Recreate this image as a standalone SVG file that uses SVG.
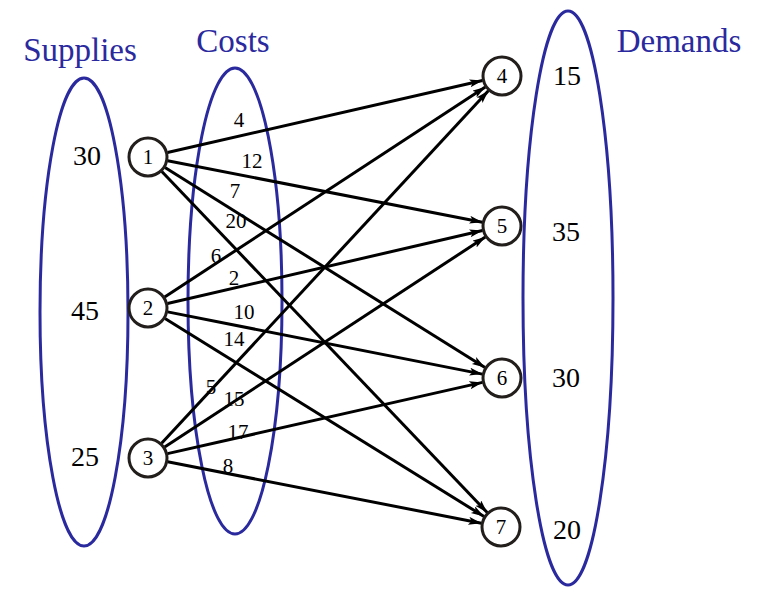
<svg xmlns="http://www.w3.org/2000/svg" width="768" height="599" viewBox="0 0 768 599">
<style>
.grp{fill:none;stroke:#2a2a9e;stroke-width:3}
.title{font-family:"Liberation Serif","Times New Roman",serif;font-size:33px;fill:#2a2a9e;text-anchor:middle}
.num{font-family:"Liberation Serif","Times New Roman",serif;font-size:28px;fill:#000;text-anchor:middle}
.node circle{fill:#fff;stroke:#221e1c;stroke-width:3}
.node text{font-family:"Liberation Serif","Times New Roman",serif;font-size:21px;fill:#000;text-anchor:middle}
.edges line{stroke:#000;stroke-width:3;marker-end:url(#arr)}
.cost{font-family:"Liberation Serif","Times New Roman",serif;font-size:21px;fill:#000;text-anchor:middle}
</style>
<defs>
<marker id="arr" markerUnits="userSpaceOnUse" markerWidth="14" markerHeight="10" refX="13" refY="4" orient="auto">
<path d="M0,0 L13,4 L0,8 L3,4 z" fill="#000"/>
</marker>
</defs>
<rect width="768" height="599" fill="#fff"/>
<g id="ellipses">
<ellipse class="grp" cx="84" cy="312" rx="44" ry="234"/>
<ellipse class="grp" cx="235" cy="301" rx="47" ry="233"/>
<ellipse class="grp" cx="568" cy="298" rx="45" ry="287"/>
</g>
<g id="titles">
<text class="title" x="80" y="61">Supplies</text>
<text class="title" x="233" y="52">Costs</text>
<text class="title" x="679" y="52">Demands</text>
</g>
<g id="supplies">
<text class="num" x="87" y="165">30</text>
<text class="num" x="85" y="320">45</text>
<text class="num" x="85" y="466">25</text>
</g>
<g id="demands">
<text class="num" x="567" y="85">15</text>
<text class="num" x="566" y="241">35</text>
<text class="num" x="566" y="387">30</text>
<text class="num" x="567" y="539">20</text>
</g>
<g id="connectors" class="edges">
<line x1="167.5" y1="152.5" x2="482.5" y2="80.5"/>
<line x1="167.6" y1="160.8" x2="482.4" y2="222.2"/>
<line x1="165" y1="167.6" x2="485" y2="367.4"/>
<line x1="161.8" y1="171.5" x2="487.2" y2="512.5"/>
<line x1="164.7" y1="297" x2="485.3" y2="87"/>
<line x1="167.5" y1="303.5" x2="482.5" y2="230.5"/>
<line x1="167.6" y1="311.9" x2="482.4" y2="374.1"/>
<line x1="165" y1="318.5" x2="484" y2="516.5"/>
<line x1="161.6" y1="443.3" x2="488.4" y2="90.7"/>
<line x1="164.7" y1="447" x2="485.3" y2="237"/>
<line x1="167.5" y1="453.6" x2="482.5" y2="382.4"/>
<line x1="167.6" y1="461.8" x2="481.4" y2="523.2"/>
</g>
<g id="costs">
<text class="cost" x="239" y="127">4</text>
<text class="cost" x="252" y="168">12</text>
<text class="cost" x="235" y="198">7</text>
<text class="cost" x="236" y="228">20</text>
<text class="cost" x="216" y="263">6</text>
<text class="cost" x="234" y="285">2</text>
<text class="cost" x="244" y="319">10</text>
<text class="cost" x="234" y="346">14</text>
<text class="cost" x="211" y="394">5</text>
<text class="cost" x="234" y="406">15</text>
<text class="cost" x="238" y="439">17</text>
<text class="cost" x="228" y="473">8</text>
</g>
<g id="n1" class="node"><circle cx="148" cy="157" r="19"/><text x="148" y="164">1</text></g>
<g id="n2" class="node"><circle cx="148" cy="308" r="19"/><text x="148" y="315">2</text></g>
<g id="n3" class="node"><circle cx="148" cy="458" r="19"/><text x="148" y="465">3</text></g>
<g id="n4" class="node"><circle cx="502" cy="76" r="19"/><text x="502" y="83">4</text></g>
<g id="n5" class="node"><circle cx="502" cy="226" r="19"/><text x="502" y="233">5</text></g>
<g id="n6" class="node"><circle cx="502" cy="378" r="19"/><text x="502" y="385">6</text></g>
<g id="n7" class="node"><circle cx="501" cy="527" r="19"/><text x="501" y="534">7</text></g>
</svg>
